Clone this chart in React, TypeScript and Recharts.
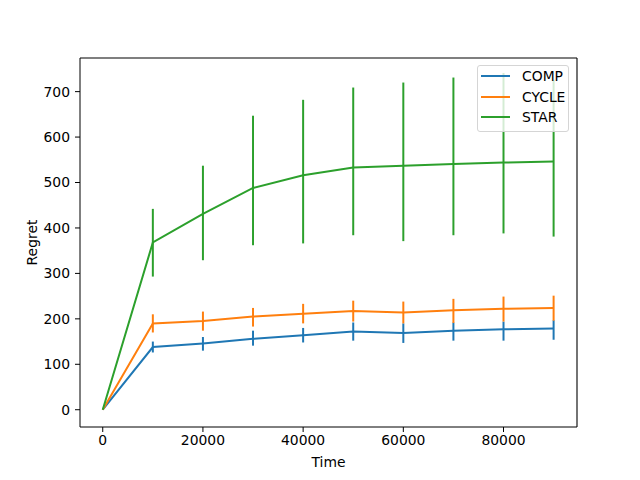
import { LineChart, Line, XAxis, YAxis, ErrorBar, ReferenceLine } from 'recharts';

// values
const times = [0, 10000, 20000, 30000, 40000, 50000, 60000, 70000, 80000, 90000];

const compMean = [0, 138, 146, 156, 164, 172, 169, 174, 177, 179];
const compLow = [0, 126, 130, 141, 148, 152, 147, 152, 152, 154];
const compHigh = [0, 150, 160, 174, 180, 192, 190, 192, 194, 197];

const cycleMean = [0, 190, 195, 205, 211, 217, 214, 219, 222, 224];
const cycleLow = [0, 170, 174, 183, 190, 194, 190, 191, 194, 196];
const cycleHigh = [0, 210, 216, 224, 233, 240, 238, 244, 249, 251];

const starMean = [0, 368, 431, 488, 516, 533, 537, 541, 544, 546];
const starLow = [0, 293, 329, 362, 366, 384, 371, 384, 388, 381];
const starHigh = [0, 442, 537, 647, 682, 709, 720, 731, 741, 726];

const xTicks = [0, 20000, 40000, 60000, 80000];
const yTicks = [0, 100, 200, 300, 400, 500, 600, 700];

const series = [
  { key: 'comp', name: 'COMP', color: '#1f77b4' },
  { key: 'cycle', name: 'CYCLE', color: '#ff7f0e' },
  { key: 'star', name: 'STAR', color: '#2ca02c' },
];

const data = times.map((t, i) => ({
  t,
  comp: compMean[i],
  compErr: [compMean[i] - compLow[i], compHigh[i] - compMean[i]],
  cycle: cycleMean[i],
  cycleErr: [cycleMean[i] - cycleLow[i], cycleHigh[i] - cycleMean[i]],
  star: starMean[i],
  starErr: [starMean[i] - starLow[i], starHigh[i] - starMean[i]],
}));

const font = 'DejaVu Sans, sans-serif';
const tickStyle = { fill: '#000', fontSize: 13.9, fontFamily: font };
const xDomain = [-4540, 94670];
const yDomain = [-38, 774];

export default function App() {
  return (
    <div style={{ position: 'absolute', left: 0, top: 0, width: 640, height: 480, background: '#fff' }}>
      <LineChart
        width={640}
        height={480}
        data={data}
        margin={{ top: 58, right: 63, left: 0, bottom: 0 }}
      >
        <XAxis
          dataKey="t"
          type="number"
          domain={xDomain}
          ticks={xTicks}
          allowDataOverflow
          height={53}
          tickSize={5}
          tickMargin={3}
          stroke="#000"
          tick={tickStyle}
          label={{ value: 'Time', position: 'center', dy: 9, style: { fill: '#000', fontSize: 13.9, fontFamily: font } }}
        />
        <YAxis
          type="number"
          domain={yDomain}
          ticks={yTicks}
          allowDataOverflow
          width={80}
          tickSize={5}
          tickMargin={5}
          stroke="#000"
          tick={tickStyle}
          label={{ value: 'Regret', position: 'center', angle: -90, dx: -8, style: { fill: '#000', fontSize: 13.9, fontFamily: font } }}
        />
        {/* top and right spines */}
        <ReferenceLine x={xDomain[1]} stroke="#000" strokeWidth={1.1} />
        <ReferenceLine y={yDomain[1]} stroke="#000" strokeWidth={1.1} />
        {series.map((s) => (
          <Line
            key={s.key}
            type="linear"
            dataKey={s.key}
            stroke={s.color}
            strokeWidth={2}
            dot={false}
            isAnimationActive={false}
          >
            <ErrorBar dataKey={s.key + 'Err'} direction="y" width={0} stroke={s.color} strokeWidth={2} isAnimationActive={false} />
          </Line>
        ))}
      </LineChart>
      <div
        style={{
          position: 'absolute',
          left: 477,
          top: 65,
          width: 92,
          height: 67,
          background: 'rgba(255,255,255,0.8)',
          border: '1px solid #d5d5d5',
          borderRadius: 3,
          fontFamily: font,
          fontSize: 13.9,
          boxSizing: 'border-box',
        }}
      >
        {series.map((s) => (
          <div key={s.key} style={{ display: 'flex', alignItems: 'center', height: 20.4 }}>
            <div style={{ marginLeft: 3, width: 29, height: 2, background: s.color }} />
            <span style={{ marginLeft: 12, color: '#000' }}>{s.name}</span>
          </div>
        ))}
      </div>
    </div>
  );
}
